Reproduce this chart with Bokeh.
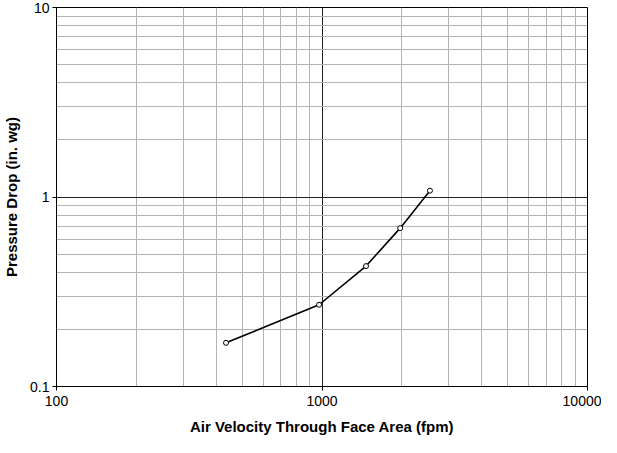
from bokeh.plotting import figure
from bokeh.models import FixedTicker, CustomJSTickFormatter
from bokeh.embed import file_html
from bokeh.resources import INLINE

velocity = [435, 975, 1465, 1970, 2550]
pressure = [0.170, 0.270, 0.432, 0.685, 1.08]

x_ticks = [100, 1000, 10000]
x_minor = [200, 300, 400, 500, 600, 700, 800, 900,
           2000, 3000, 4000, 5000, 6000, 7000, 8000, 9000]
y_ticks = [0.1, 1, 10]
y_minor = [0.2, 0.3, 0.4, 0.5, 0.6, 0.7, 0.8, 0.9,
           2, 3, 4, 5, 6, 7, 8, 9]

p = figure(width=601, height=437, x_axis_type="log", y_axis_type="log",
           x_range=(100, 10000), y_range=(0.1, 10),
           output_backend="svg", toolbar_location=None,
           min_border_left=52, min_border_right=14, min_border_top=7, min_border_bottom=50)

p.outline_line_color = "black"
p.outline_line_width = 1

fmt = CustomJSTickFormatter(code="return tick.toString();")
for ax, ticks, minor in ((p.xaxis, x_ticks, x_minor), (p.yaxis, y_ticks, y_minor)):
    ax.ticker = FixedTicker(ticks=ticks, minor_ticks=minor)
    ax.formatter = fmt
    ax.major_tick_out = 4
    ax.major_tick_in = 0
    ax.minor_tick_out = 0
    ax.minor_tick_in = 0
    ax.axis_line_color = "black"
    ax.major_tick_line_color = "black"
    ax.major_label_text_font = "Liberation Sans"
    ax.major_label_text_font_size = "14px"
    ax.major_label_text_color = "black"
    ax.axis_label_text_font = "Liberation Sans"
    ax.axis_label_text_font_size = "15px"
    ax.axis_label_text_font_style = "bold"
    ax.axis_label_text_color = "black"

p.xaxis.axis_label = "Air Velocity Through Face Area (fpm)"
p.yaxis.axis_label = "Pressure Drop (in. wg)"
p.xaxis.major_label_standoff = 5
p.xaxis.axis_label_standoff = 9
p.yaxis.major_label_standoff = 3
p.yaxis.axis_label_standoff = 7

for g, ticks, minor in ((p.xgrid, x_ticks, x_minor), (p.ygrid, y_ticks, y_minor)):
    g.ticker = FixedTicker(ticks=ticks, minor_ticks=minor)
    g.grid_line_color = "#222222"
    g.grid_line_width = 1
    g.minor_grid_line_color = "#b4b4b4"
    g.minor_grid_line_width = 1

p.line(velocity, pressure, line_color="black", line_width=1.6)
p.scatter(velocity, pressure, size=5, fill_color="white", line_color="black", line_width=1)

open("out.html", "w").write(file_html(p, INLINE))
